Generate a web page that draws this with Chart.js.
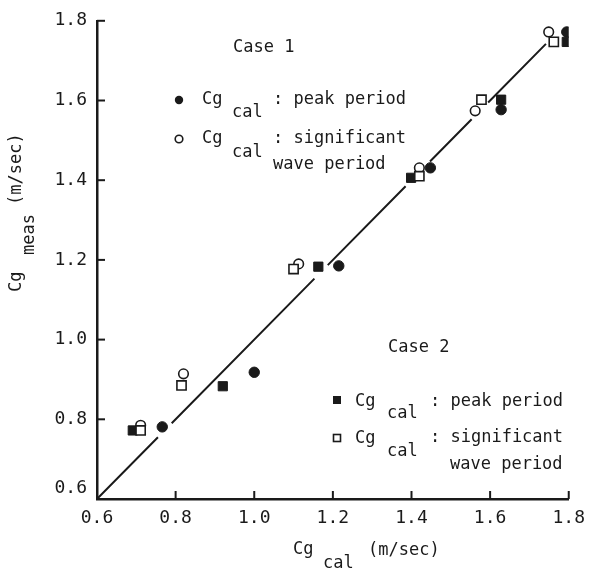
<!DOCTYPE html>
<html>
<head>
<meta charset="utf-8">
<script src="https://cdn.jsdelivr.net/npm/chart.js@4"></script>
<style>
  html, body { margin: 0; padding: 0; background: #fff; }
  #wrap { width: 594px; height: 569px; position: relative; }
</style>
</head>
<body>
<div id="wrap"><canvas id="c"></canvas></div>
<script>
// Axis range and tick values (m/sec)
const tickValues = [0.6, 0.8, 1.0, 1.2, 1.4, 1.6, 1.8];

// Case 1: group velocity from the peak period (filled circles)
const case1PeakCal  = [0.766, 1.000, 1.215, 1.448, 1.628, 1.795];
const case1PeakMeas = [0.781, 0.918, 1.185, 1.431, 1.577, 1.772];
// Case 1: group velocity from the significant wave period (open circles)
const case1SigCal   = [0.711, 0.820, 1.113, 1.420, 1.562, 1.749];
const case1SigMeas  = [0.785, 0.914, 1.190, 1.431, 1.574, 1.772];
// Case 2: peak period (filled squares)
const case2PeakCal  = [0.691, 0.920, 1.163, 1.399, 1.628, 1.795];
const case2PeakMeas = [0.772, 0.883, 1.183, 1.406, 1.602, 1.747];
// Case 2: significant wave period (open squares)
const case2SigCal   = [0.711, 0.815, 1.100, 1.420, 1.578, 1.762];
const case2SigMeas  = [0.772, 0.885, 1.177, 1.410, 1.602, 1.747];

// Line of perfect agreement, broken where it passes the markers
const agreeLine = [0.6, 0.755, null, 0.79, 1.153, null, 1.187, 1.385, null, 1.447, 1.553, null, 1.595, 1.742];

const FONT = 'DejaVu Sans Mono';
const INK = '#1a1a1a';

const pts = (xs, ys) => xs.map((x, i) => ({ x, y: ys[i] }));
const linePts = agreeLine.map((v, i) => v === null
  ? { x: (agreeLine[i - 1] + agreeLine[i + 1]) / 2, y: null }
  : { x: v, y: v });

// Inward tick marks on both axes
const tickMarks = {
  id: 'tickMarks',
  beforeDraw(chart) {
    // lift the lowest y label clear of the x labels
    const items = chart.scales.y.getLabelItems();
    items.forEach(it => {
      if (it.label === '0.6') it.options.translation[1] -= 11;
    });
  },
  afterDatasetsDraw(chart) {
    const { ctx } = chart;
    const xs = chart.scales.x, ys = chart.scales.y;
    const a = chart.chartArea;
    ctx.save();
    ctx.strokeStyle = INK;
    ctx.lineWidth = 2;
    tickValues.forEach(v => {
      if (v === 0.6) return;
      const px = xs.getPixelForValue(v);
      ctx.beginPath(); ctx.moveTo(px, a.bottom); ctx.lineTo(px, a.bottom - 8); ctx.stroke();
      const py = ys.getPixelForValue(v);
      ctx.beginPath(); ctx.moveTo(a.left, py); ctx.lineTo(a.left + 8, py); ctx.stroke();
    });
    ctx.restore();
  }
};

// Axis titles and the two legend blocks
const notes = {
  id: 'notes',
  afterDraw(chart) {
    const { ctx } = chart;
    ctx.save();
    ctx.fillStyle = INK;
    ctx.strokeStyle = INK;
    ctx.font = '17px "' + FONT + '"';
    ctx.textBaseline = 'middle';
    ctx.textAlign = 'left';
    const t = (s, x, y) => ctx.fillText(s, x, y);

    // x title
    t('Cg', 293, 550); t('cal', 323, 564); t('(m/sec)', 368, 551);

    // y title (rotated)
    ctx.save();
    ctx.translate(17, 292);
    ctx.rotate(-Math.PI / 2);
    t('Cg', 0, 0); t('meas', 37, 13); t('(m/sec)', 87, 0);
    ctx.restore();

    // Case 1 legend
    t('Case 1', 233, 48);
    ctx.beginPath(); ctx.arc(179, 100, 4.2, 0, Math.PI * 2); ctx.fill();
    t('Cg', 202, 100); t('cal', 232, 113); t(': peak period', 273, 100);
    ctx.lineWidth = 1.6;
    ctx.beginPath(); ctx.arc(179, 139, 3.8, 0, Math.PI * 2); ctx.stroke();
    t('Cg', 202, 139); t('cal', 232, 153); t(': significant', 273, 139);
    t('wave period', 273, 165);

    // Case 2 legend
    t('Case 2', 388, 348);
    ctx.fillRect(333, 396, 8, 8);
    t('Cg', 355, 402); t('cal', 387, 414); t(': peak period', 430, 402);
    ctx.strokeRect(333.5, 434.5, 7, 7);
    t('Cg', 355, 439); t('cal', 387, 452); t(': significant', 430, 438);
    t('wave period', 450, 465);
    ctx.restore();
  }
};

const tickFont = { family: FONT, size: 18 };

new Chart(document.getElementById('c'), {
  type: 'scatter',
  data: {
    datasets: [
      { label: 'Case 2 significant', data: pts(case2SigCal, case2SigMeas), pointStyle: 'rect',
        pointRadius: 6.5, backgroundColor: '#fff', borderColor: INK, borderWidth: 1.6 },
      { label: 'Case 1 significant', data: pts(case1SigCal, case1SigMeas), pointStyle: 'circle',
        pointRadius: 4.8, backgroundColor: '#fff', borderColor: INK, borderWidth: 1.6 },
      { label: 'Case 2 peak', data: pts(case2PeakCal, case2PeakMeas), pointStyle: 'rect',
        pointRadius: 6.5, backgroundColor: INK, borderColor: INK, borderWidth: 1 },
      { label: 'Case 1 peak', data: pts(case1PeakCal, case1PeakMeas), pointStyle: 'circle',
        pointRadius: 5.2, backgroundColor: INK, borderColor: INK, borderWidth: 1 },
      { type: 'line', label: 'agreement', data: linePts, showLine: true, spanGaps: false,
        borderColor: INK, borderWidth: 2, pointRadius: 0, fill: false, tension: 0 }
    ]
  },
  options: {
    responsive: true,
    maintainAspectRatio: false,
    animation: false,
    devicePixelRatio: 1,
    layout: { padding: { left: 0, top: 19, right: 17, bottom: 0 } },
    plugins: { legend: { display: false }, tooltip: { enabled: false } },
    scales: {
      x: {
        type: 'linear', min: 0.6, max: 1.8,
        afterBuildTicks: s => { s.ticks = tickValues.map(value => ({ value })); },
        afterFit: s => { s.height = 70; },
        ticks: { font: tickFont, color: INK, padding: 9, maxRotation: 0, autoSkip: false,
                 callback: v => Number(v).toFixed(1) },
        grid: { display: false, drawTicks: false },
        border: { display: true, color: INK, width: 2.5 }
      },
      y: {
        type: 'linear', min: 0.6, max: 1.8,
        afterBuildTicks: s => { s.ticks = tickValues.map(value => ({ value })); },
        afterFit: s => { s.width = 97; },
        ticks: { font: tickFont, color: INK, padding: 10, autoSkip: false,
                 callback: v => Number(v).toFixed(1) },
        grid: { display: false, drawTicks: false },
        border: { display: true, color: INK, width: 2.5 }
      }
    }
  },
  plugins: [tickMarks, notes]
});
</script>
</body>
</html>
